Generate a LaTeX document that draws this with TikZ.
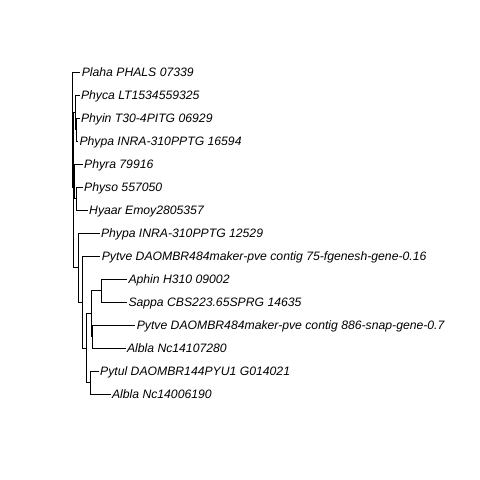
\documentclass[tikz,border=0pt]{standalone}
\usepackage{fontspec}
\setmainfont{Liberation Sans}
\usepackage{tikz}
\usetikzlibrary{positioning}

\begin{document}
\begin{tikzpicture}
    [
    x=1bp, y=-1bp,
    tip/.style={anchor=west,inner xsep=1.3bp,inner ysep=0pt,text height=8.7bp,text depth=0pt,
      font=\fontsize{12.2bp}{14bp}\selectfont\itshape},
    edge/.style={line width=0.75bp}
    ]
    \useasboundingbox (0,0) rectangle (480,480);
    % tips
    \node[tip] (1) at (80.3,72) {Plaha PHALS 07339};
    \node[tip] (2) at (79.5,95) {Phyca LT1534559325};
    \node[tip] (3) at (79.5,118) {Phyin T30-4PITG 06929};
    \node[tip] (4) at (78,141) {Phypa INRA-310PPTG 16594};
    \node[tip] (5) at (82.7,164) {Phyra 79916};
    \node[tip] (6) at (82.7,187) {Physo 557050};
    \node[tip] (7) at (87.7,210) {Hyaar Emoy2805357};
    \node[tip] (8) at (99.5,233) {Phypa INRA-310PPTG 12529};
    \node[tip] (9) at (100.3,256) {Pytve DAOMBR484maker-pve contig 75-fgenesh-gene-0.16};
    \node[tip] (10) at (127,279) {Aphin H310 09002};
    \node[tip] (11) at (127,302) {Sappa CBS223.65SPRG 14635};
    \node[tip] (12) at (135.3,325) {Pytve DAOMBR484maker-pve contig 886-snap-gene-0.7};
    \node[tip] (13) at (125.5,348) {Albla Nc14107280};
    \node[tip] (14) at (98.7,371) {Pytul DAOMBR144PYU1 G014021};
    \node[tip] (15) at (110.5,394) {Albla Nc14006190};
    % internal nodes
    \coordinate (r) at (72.3,129.5);
    \coordinate (b) at (73.3,187);
    \coordinate (c1) at (75,112.25);
    \coordinate (c1a) at (76.3,129.5);
    \coordinate (c2) at (74.5,181.25);
    \coordinate (c2a) at (76.5,198.5);
    \coordinate (n7) at (78.3,267.5);
    \coordinate (n6) at (82.7,302);
    \coordinate (n4) at (86.7,348);
    \coordinate (n3) at (91.5,313.5);
    \coordinate (n1) at (101.3,290.5);
    \coordinate (n2) at (92.7,336.5);
    \coordinate (n5) at (90,382.5);
    % edges
    \draw[edge] (r) |- (1.west);
    \draw[edge] (r) |- (b);
    \draw[edge] (b) |- (c1);
    \draw[edge] (b) |- (c2);
    \draw[edge] (b) |- (n7);
    \draw[edge] (c1) |- (2.west);
    \draw[edge] (c1) |- (c1a);
    \draw[edge] (c1a) |- (3.west);
    \draw[edge] (c1a) |- (4.west);
    \draw[edge] (c2) |- (5.west);
    \draw[edge] (c2) |- (c2a);
    \draw[edge] (c2a) |- (6.west);
    \draw[edge] (c2a) |- (7.west);
    \draw[edge] (n7) |- (8.west);
    \draw[edge] (n7) |- (n6);
    \draw[edge] (n6) |- (9.west);
    \draw[edge] (n6) |- (n4);
    \draw[edge] (n4) |- (n3);
    \draw[edge] (n4) |- (n5);
    \draw[edge] (n3) |- (n1);
    \draw[edge] (n3) |- (n2);
    \draw[edge] (n1) |- (10.west);
    \draw[edge] (n1) |- (11.west);
    \draw[edge] (n2) |- (12.west);
    \draw[edge] (n2) |- (13.west);
    \draw[edge] (n5) |- (14.west);
    \draw[edge] (n5) |- (15.west);
\end{tikzpicture}
\end{document}
